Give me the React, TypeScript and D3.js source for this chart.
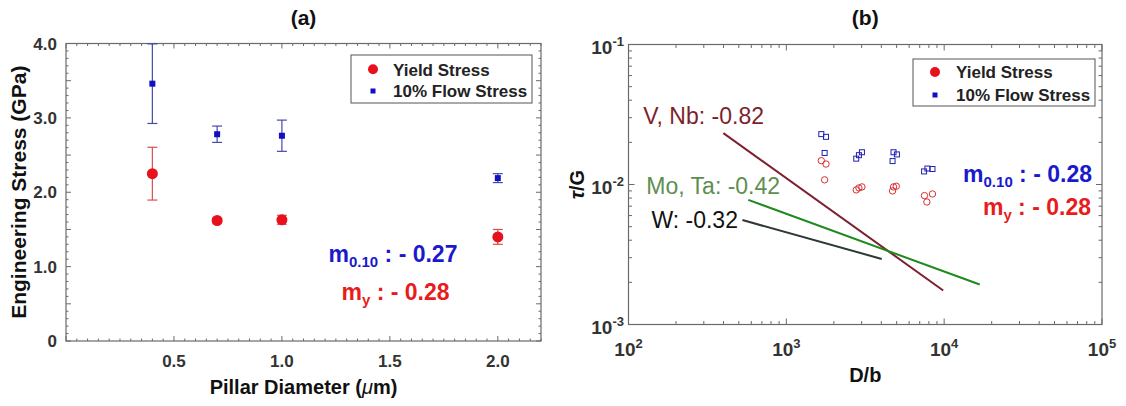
import React from 'react';
import * as d3 from 'd3';

// panel (a): pillar diameter vs engineering stress
const diameters = [0.4, 0.7, 1.0, 2.0];
const yieldStress = [2.25, 1.62, 1.63, 1.40];
const yieldErr = [0.355, 0.03, 0.06, 0.10];
const flowStress = [3.46, 2.78, 2.76, 2.19];
const flowErr = [0.535, 0.11, 0.21, 0.06];
const aXTickLabels = [0.5, 1.0, 1.5, 2.0];
const aYTickValues = [0, 1, 2, 3, 4];
const aYTickLabels = ['0', '1.0', '2.0', '3.0', '4.0'];

// panel (b): normalised size vs normalised stress
const flowDb = [1666, 1784, 1748, 2773, 2884, 3013, 4710, 4777, 5019, 7460, 7830, 8430];
const flowTau = [0.0229, 0.0219, 0.0168, 0.0153, 0.0162, 0.0170, 0.0147, 0.0170, 0.0164, 0.0124, 0.0130, 0.0129];
const yieldDb = [1666, 1784, 1748, 2773, 2884, 3013, 4710, 4777, 4970, 7500, 7770, 8430];
const yieldTau = [0.0148, 0.0140, 0.0108, 0.00915, 0.00945, 0.00961, 0.0090, 0.00961, 0.00972, 0.00833, 0.0075, 0.00856];
const trendNames = ['V, Nb: -0.82', 'Mo, Ta: -0.42', 'W: -0.32'];
const trendStart = [[399, 0.0233], [574, 0.00776], [527, 0.00557]];
const trendEnd = [[9860, 0.00175], [16800, 0.00193], [4020, 0.00294]];
const bXTickValues = [1e2, 1e3, 1e4, 1e5];
const bXTickExp = ['2', '3', '4', '5'];
const bYTickValues = [1e-3, 1e-2, 1e-1];
const bYTickExp = ['-3', '-2', '-1'];

const FONT = '"Liberation Sans", Arial, Helvetica, sans-serif';
const RED = '#e8101a';
const BLUE = '#1010c0';

const trendStyle = [
  { line: '#7e2030', text: '#7e1f2c', dx: -80, dy: -9 },
  { line: '#1c8a1c', text: '#5e8f50', dx: -102, dy: -6 },
  { line: '#2d3838', text: '#111', dx: -91, dy: 8 },
];

const isPow10 = (v: number) => Math.abs(Math.log10(v) - Math.round(Math.log10(v))) < 1e-9;

export default function App() {
  // ---- panel a scales
  const ax = d3.scaleLinear().domain([0, 2.2]).range([66, 541]);
  const ay = d3.scaleLinear().domain([0, 4]).range([341, 43.5]);
  const [ax0, ax1] = ax.range();
  const [ay0, ay1] = ay.range();
  const axMinor = d3.range(0, 2.2001, 0.05);
  const ayMinor = d3.range(0, 4.0001, 0.1);

  // ---- panel b scales
  const bx = d3.scaleLog().domain([1e2, 1e5]).range([628.5, 1102]);
  const by = d3.scaleLog().domain([1e-3, 1e-1]).range([324.5, 44.5]);
  const [bx0, bx1] = bx.range();
  const [by0, by1] = by.range();

  const frame = '#6a6a6a';

  return (
    <svg width={1126} height={406} style={{ position: 'absolute', left: 0, top: 0 }} fontFamily={FONT}>
      <rect width={1126} height={406} fill="#fff" />

      {/* ================= panel a ================= */}
      <text x={(ax0 + ax1) / 2} y={25} textAnchor="middle" fontSize={21} fontWeight="bold" fill="#111">(a)</text>

      {axMinor.map((v, i) => {
        const major = Math.abs(v * 2 - Math.round(v * 2)) < 1e-6;
        const l = major ? 5 : 2.5;
        return (
          <g key={'axt' + i} stroke={frame} strokeWidth={1}>
            <line x1={ax(v)} x2={ax(v)} y1={ay0} y2={ay0 - l} />
            <line x1={ax(v)} x2={ax(v)} y1={ay1} y2={ay1 + l} />
          </g>
        );
      })}
      {ayMinor.map((v, i) => {
        const major = Math.abs(v * 2 - Math.round(v * 2)) < 1e-6;
        const l = major ? 5 : 2.5;
        return (
          <g key={'ayt' + i} stroke={frame} strokeWidth={1}>
            <line x1={ax0} x2={ax0 + l} y1={ay(v)} y2={ay(v)} />
            <line x1={ax1} x2={ax1 - l} y1={ay(v)} y2={ay(v)} />
          </g>
        );
      })}
      <rect x={ax0} y={ay1} width={ax1 - ax0} height={ay0 - ay1} fill="none" stroke={frame} strokeWidth={1.2} />

      {aXTickLabels.map((v) => (
        <text key={'axl' + v} x={ax(v)} y={367} textAnchor="middle" fontSize={17} fontWeight="bold" fill="#333">
          {d3.format('.1f')(v)}
        </text>
      ))}
      {aYTickValues.map((v, i) => (
        <text key={'ayl' + v} x={57} y={ay(v) + 6} textAnchor="end" fontSize={17} fontWeight="bold" fill="#333">
          {aYTickLabels[i]}
        </text>
      ))}

      <text x={(ax0 + ax1) / 2} y={394} textAnchor="middle" fontSize={20} fontWeight="bold" fill="#111">
        Pillar Diameter (<tspan fontStyle="italic" fontWeight="normal">μ</tspan>m)
      </text>
      <text transform={`translate(26,${(ay0 + ay1) / 2}) rotate(-90)`} textAnchor="middle" fontSize={21} fontWeight="bold" fill="#111">
        Engineering Stress (GPa)
      </text>

      {/* error bars */}
      {diameters.map((d, i) => (
        <g key={'fe' + i} stroke="#4848a8" strokeWidth={1.2}>
          <line x1={ax(d)} x2={ax(d)} y1={ay(flowStress[i] - flowErr[i])} y2={ay(flowStress[i] + flowErr[i])} />
          <line x1={ax(d) - 5} x2={ax(d) + 5} y1={ay(flowStress[i] - flowErr[i])} y2={ay(flowStress[i] - flowErr[i])} />
          <line x1={ax(d) - 5} x2={ax(d) + 5} y1={ay(flowStress[i] + flowErr[i])} y2={ay(flowStress[i] + flowErr[i])} />
        </g>
      ))}
      {diameters.map((d, i) => (
        <g key={'ye' + i} stroke="#d85050" strokeWidth={1.2}>
          <line x1={ax(d)} x2={ax(d)} y1={ay(yieldStress[i] - yieldErr[i])} y2={ay(yieldStress[i] + yieldErr[i])} />
          <line x1={ax(d) - 5} x2={ax(d) + 5} y1={ay(yieldStress[i] - yieldErr[i])} y2={ay(yieldStress[i] - yieldErr[i])} />
          <line x1={ax(d) - 5} x2={ax(d) + 5} y1={ay(yieldStress[i] + yieldErr[i])} y2={ay(yieldStress[i] + yieldErr[i])} />
        </g>
      ))}
      {diameters.map((d, i) => (
        <rect key={'fp' + i} x={ax(d) - 3} y={ay(flowStress[i]) - 3} width={6} height={6} fill={BLUE} />
      ))}
      {diameters.map((d, i) => (
        <circle key={'yp' + i} cx={ax(d)} cy={ay(yieldStress[i])} r={5.5} fill={RED} />
      ))}

      {/* legend a */}
      <rect x={351} y={55} width={181} height={48} fill="#fff" stroke="#555" strokeWidth={1} />
      <circle cx={373} cy={69.3} r={5} fill={RED} />
      <text x={393} y={75.5} fontSize={17} fontWeight="bold" fill="#222">Yield Stress</text>
      <rect x={370.5} y={88.5} width={5} height={5} fill={BLUE} />
      <text x={393} y={97.2} fontSize={17} fontWeight="bold" fill="#222">10% Flow Stress</text>

      <text x={393} y={262} textAnchor="middle" fontSize={23} fontWeight="bold" fill="#1a1acc">
        m<tspan fontSize={15} dy={5}>0.10</tspan><tspan dy={-5}> : - 0.27</tspan>
      </text>
      <text x={395.5} y={300} textAnchor="middle" fontSize={23} fontWeight="bold" fill="#e81c1c">
        m<tspan fontSize={15} dy={5}>y</tspan><tspan dy={-5}> : - 0.28</tspan>
      </text>

      {/* ================= panel b ================= */}
      <text x={(bx0 + bx1) / 2} y={25} textAnchor="middle" fontSize={21} fontWeight="bold" fill="#111">(b)</text>

      {bx.ticks().map((v, i) => {
        const l = isPow10(v) ? 6 : 3.5;
        return (
          <g key={'bxt' + i} stroke={frame} strokeWidth={1}>
            <line x1={bx(v)} x2={bx(v)} y1={by0} y2={by0 - l} />
            <line x1={bx(v)} x2={bx(v)} y1={by1} y2={by1 + l} />
          </g>
        );
      })}
      {by.ticks().map((v, i) => {
        const l = isPow10(v) ? 6 : 3.5;
        return (
          <g key={'byt' + i} stroke={frame} strokeWidth={1}>
            <line x1={bx0} x2={bx0 + l} y1={by(v)} y2={by(v)} />
            <line x1={bx1} x2={bx1 - l} y1={by(v)} y2={by(v)} />
          </g>
        );
      })}
      <rect x={bx0} y={by1} width={bx1 - bx0} height={by0 - by1} fill="none" stroke={frame} strokeWidth={1.2} />

      {bXTickValues.map((v, i) => (
        <text key={'bxl' + i} x={bx(v)} y={356} textAnchor="middle" fontSize={19} fontWeight="bold" fill="#333">
          10<tspan fontSize={13} dy={-8}>{bXTickExp[i]}</tspan>
        </text>
      ))}
      {bYTickValues.map((v, i) => (
        <text key={'byl' + i} x={624} y={by(v) + 9} textAnchor="end" fontSize={19} fontWeight="bold" fill="#333">
          10<tspan fontSize={13} dy={-8}>{bYTickExp[i]}</tspan>
        </text>
      ))}

      <text x={(bx0 + bx1) / 2} y={382} textAnchor="middle" fontSize={20} fontWeight="bold" fill="#111">D/b</text>
      <text transform={`translate(584,${(by0 + by1) / 2}) rotate(-90)`} textAnchor="middle" fontSize={20} fontWeight="bold" fill="#111">
        <tspan fontStyle="italic">τ</tspan>/G
      </text>

      {/* trend lines */}
      {trendNames.map((name, i) => (
        <g key={'tr' + i}>
          <line
            x1={bx(trendStart[i][0])} y1={by(trendStart[i][1])}
            x2={bx(trendEnd[i][0])} y2={by(trendEnd[i][1])}
            stroke={trendStyle[i].line} strokeWidth={2}
          />
          <text x={bx(trendStart[i][0]) + trendStyle[i].dx} y={by(trendStart[i][1]) + trendStyle[i].dy} fontSize={23} fill={trendStyle[i].text}>
            {name}
          </text>
        </g>
      ))}

      {flowDb.map((d, i) => (
        <rect key={'bf' + i} x={bx(d) - 2.5} y={by(flowTau[i]) - 2.5} width={5} height={5} fill="none" stroke="#2020b0" strokeWidth={1} />
      ))}
      {yieldDb.map((d, i) => (
        <circle key={'by' + i} cx={bx(d)} cy={by(yieldTau[i])} r={3.2} fill="none" stroke="#d83030" strokeWidth={1} />
      ))}

      {/* legend b */}
      <rect x={913} y={59} width={182} height={47} fill="#fff" stroke="#555" strokeWidth={1} />
      <circle cx={935} cy={72} r={5} fill={RED} />
      <text x={956} y={78.2} fontSize={17} fontWeight="bold" fill="#222">Yield Stress</text>
      <rect x={932.5} y={92.5} width={5} height={5} fill={BLUE} />
      <text x={956} y={101} fontSize={17} fontWeight="bold" fill="#222">10% Flow Stress</text>

      <text x={1092} y={182} textAnchor="end" fontSize={23} fontWeight="bold" fill="#1a1acc">
        m<tspan fontSize={15} dy={5}>0.10</tspan><tspan dy={-5}> : - 0.28</tspan>
      </text>
      <text x={1091} y={215} textAnchor="end" fontSize={23} fontWeight="bold" fill="#e81c1c">
        m<tspan fontSize={15} dy={5}>y</tspan><tspan dy={-5}> : - 0.28</tspan>
      </text>
    </svg>
  );
}
